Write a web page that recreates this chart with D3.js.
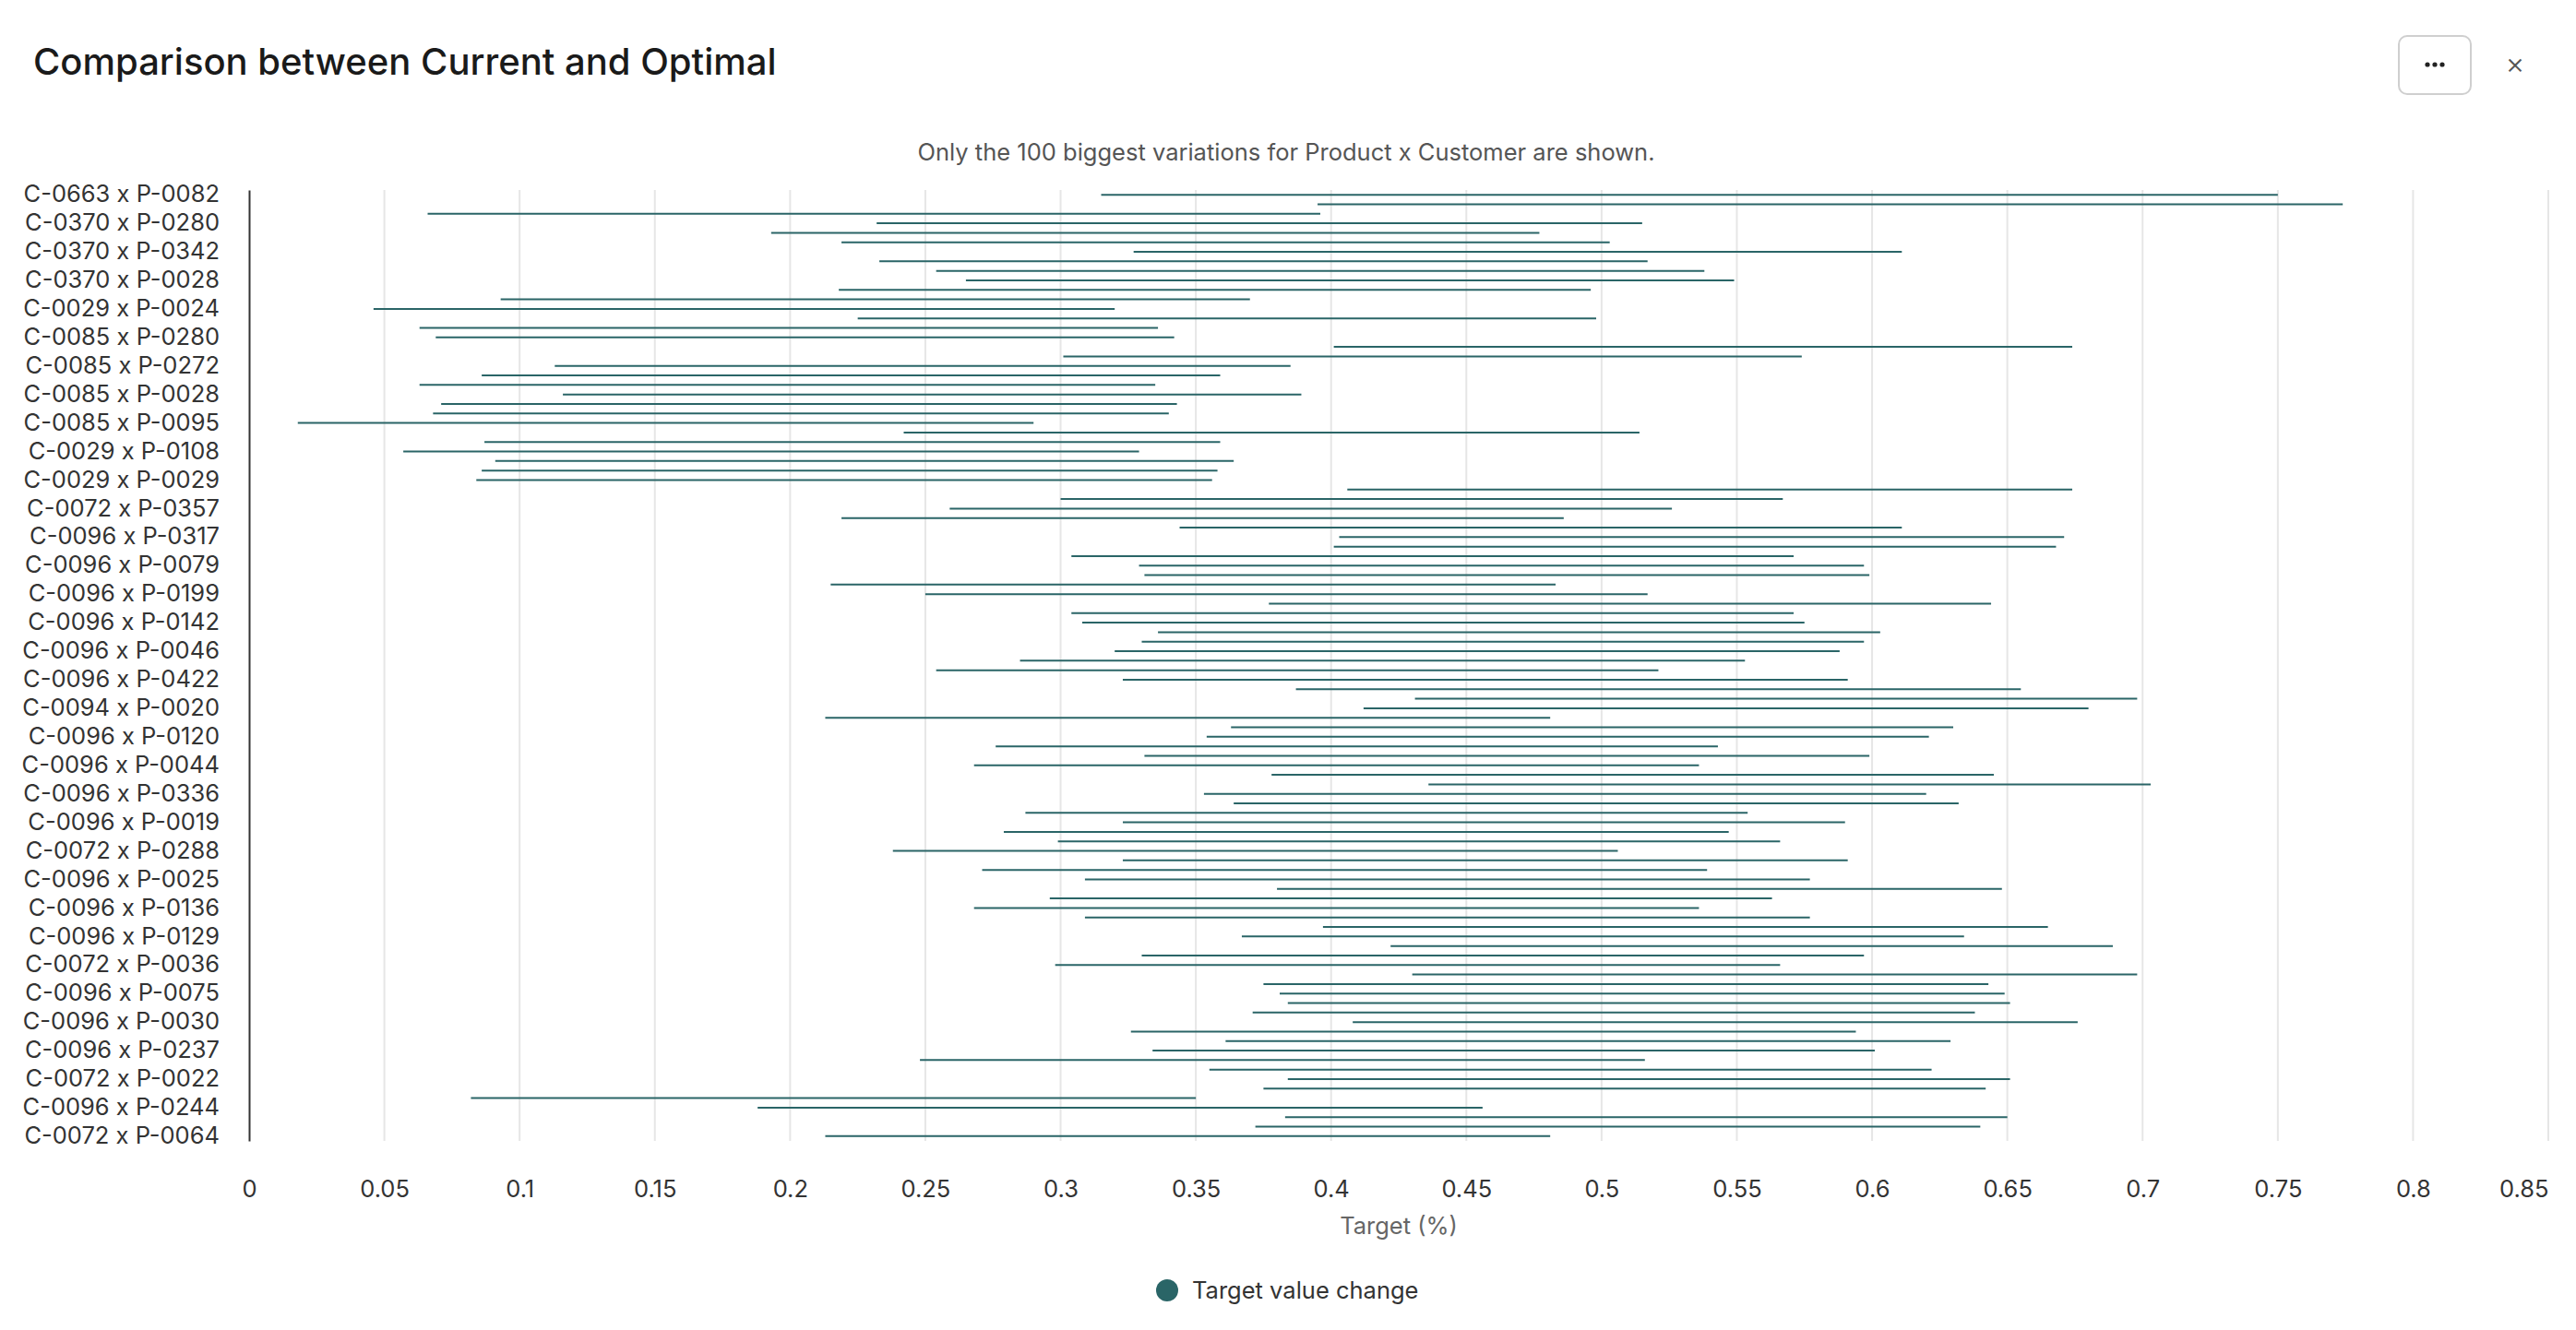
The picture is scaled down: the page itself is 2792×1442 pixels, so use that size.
<!DOCTYPE html>
<html>
<head>
<meta charset="utf-8">
<script src="https://cdn.jsdelivr.net/npm/d3@7"></script>
<style>
  html, body { margin: 0; padding: 0; background: #fff; }
  svg { display: block; font-family: Inter, "Noto Sans", sans-serif; }
</style>
</head>
<body>
<svg id="chart" width="2792" height="1442"></svg>
<script>
// labels shown on the y axis (every third row, top to bottom)
const rowLabels = [
  "C-0663 x P-0082", "C-0370 x P-0280", "C-0370 x P-0342", "C-0370 x P-0028",
  "C-0029 x P-0024", "C-0085 x P-0280", "C-0085 x P-0272", "C-0085 x P-0028",
  "C-0085 x P-0095", "C-0029 x P-0108", "C-0029 x P-0029", "C-0072 x P-0357",
  "C-0096 x P-0317", "C-0096 x P-0079", "C-0096 x P-0199", "C-0096 x P-0142",
  "C-0096 x P-0046", "C-0096 x P-0422", "C-0094 x P-0020", "C-0096 x P-0120",
  "C-0096 x P-0044", "C-0096 x P-0336", "C-0096 x P-0019", "C-0072 x P-0288",
  "C-0096 x P-0025", "C-0096 x P-0136", "C-0096 x P-0129", "C-0072 x P-0036",
  "C-0096 x P-0075", "C-0096 x P-0030", "C-0096 x P-0237", "C-0072 x P-0022",
  "C-0096 x P-0244", "C-0072 x P-0064"
];
const labelEvery = 3;

// start and end of each row's change, in target (%) units
const current = [
  0.315, 0.395, 0.066, 0.232, 0.193, 0.219, 0.327, 0.233, 0.254, 0.265,
  0.218, 0.093, 0.046, 0.225, 0.063, 0.069, 0.401, 0.301, 0.113, 0.086,
  0.063, 0.116, 0.071, 0.068, 0.018, 0.242, 0.087, 0.057, 0.091, 0.086,
  0.084, 0.406, 0.300, 0.259, 0.219, 0.344, 0.403, 0.401, 0.304, 0.329,
  0.331, 0.215, 0.250, 0.377, 0.304, 0.308, 0.336, 0.330, 0.320, 0.285,
  0.254, 0.323, 0.387, 0.431, 0.412, 0.213, 0.363, 0.354, 0.276, 0.331,
  0.268, 0.378, 0.436, 0.353, 0.364, 0.287, 0.323, 0.279, 0.299, 0.238,
  0.323, 0.271, 0.309, 0.380, 0.296, 0.268, 0.309, 0.397, 0.367, 0.422,
  0.330, 0.298, 0.430, 0.375, 0.381, 0.384, 0.371, 0.408, 0.326, 0.361,
  0.334, 0.248, 0.355, 0.384, 0.375, 0.082, 0.188, 0.383, 0.372, 0.213
];
const optimal = [
  0.750, 0.774, 0.396, 0.515, 0.477, 0.503, 0.611, 0.517, 0.538, 0.549,
  0.496, 0.370, 0.320, 0.498, 0.336, 0.342, 0.674, 0.574, 0.385, 0.359,
  0.335, 0.389, 0.343, 0.340, 0.290, 0.514, 0.359, 0.329, 0.364, 0.358,
  0.356, 0.674, 0.567, 0.526, 0.486, 0.611, 0.671, 0.668, 0.571, 0.597,
  0.599, 0.483, 0.517, 0.644, 0.571, 0.575, 0.603, 0.597, 0.588, 0.553,
  0.521, 0.591, 0.655, 0.698, 0.680, 0.481, 0.630, 0.621, 0.543, 0.599,
  0.536, 0.645, 0.703, 0.620, 0.632, 0.554, 0.590, 0.547, 0.566, 0.506,
  0.591, 0.539, 0.577, 0.648, 0.563, 0.536, 0.577, 0.665, 0.634, 0.689,
  0.597, 0.566, 0.698, 0.643, 0.649, 0.651, 0.638, 0.676, 0.594, 0.629,
  0.601, 0.516, 0.622, 0.651, 0.642, 0.350, 0.456, 0.650, 0.640, 0.481
];
const xTicks = [0, 0.05, 0.1, 0.15, 0.2, 0.25, 0.3, 0.35, 0.4, 0.45, 0.5, 0.55, 0.6, 0.65, 0.7, 0.75, 0.8, 0.85];

const lineColor = "#2a6567";
const small = "25.5px";
const svg = d3.select("#chart");
const plot = {left: 270, right: 2762, top: 206, bottom: 1237};

var rows = d3.range(current.length);
var x = d3.scaleLinear().domain([0, 0.85]).range([plot.left, plot.right]);
var y = d3.scaleBand().domain(rows).range([plot.top, plot.bottom]).padding(0);

// header
svg.append("text")
  .attr("x", 36).attr("y", 81)
  .attr("fill", "#1a1a1a")
  .style("font-size", "40px").style("font-weight", 500)
  .text("Comparison between Current and Optimal");

svg.append("rect")
  .attr("x", 2600).attr("y", 39).attr("width", 78).attr("height", 63)
  .attr("rx", 9).attr("fill", "#fff")
  .attr("stroke", "#cfcfcf").attr("stroke-width", 2);
svg.append("g").selectAll("circle").data([-8, 0, 8]).join("circle")
  .attr("cx", d => 2639 + d).attr("cy", 70).attr("r", 2.6).attr("fill", "#222");
svg.append("text")
  .attr("x", 2726).attr("y", 80)
  .attr("text-anchor", "middle").attr("fill", "#555")
  .style("font-size", "32px").style("font-weight", 300)
  .text("×");

svg.append("text")
  .attr("x", 1394).attr("y", 174)
  .attr("text-anchor", "middle").attr("fill", "#555")
  .style("font-size", small)
  .text("Only the 100 biggest variations for Product x Customer are shown.");

// grid
svg.append("g").selectAll("line").data(xTicks.slice(1)).join("line")
  .attr("x1", d => x(d)).attr("x2", d => x(d))
  .attr("y1", plot.top).attr("y2", plot.bottom)
  .attr("stroke", "#e6e6e6").attr("stroke-width", 2);

// x axis
var xAxis = svg.append("g")
  .attr("transform", "translate(0," + plot.bottom + ")")
  .call(d3.axisBottom(x).tickValues(xTicks).tickSize(0).tickFormat(d => String(+d.toFixed(2))));
xAxis.select(".domain").remove();
xAxis.selectAll("text")
  .attr("y", 61).attr("dy", 0)
  .attr("fill", "#333")
  .style("font-size", small).style("font-family", "Inter, sans-serif");
xAxis.selectAll(".tick").filter(d => d === 0.85).select("text").attr("text-anchor", "end");

svg.append("text")
  .attr("x", (plot.left + plot.right) / 2).attr("y", 1338)
  .attr("text-anchor", "middle").attr("fill", "#666")
  .style("font-size", small)
  .text("Target (%)");

// y axis
var yAxis = svg.append("g")
  .attr("transform", "translate(" + plot.left + ",0)")
  .call(d3.axisLeft(y)
    .tickValues(rows.filter(i => i % labelEvery === 0))
    .tickSize(0).tickPadding(32)
    .tickFormat(i => rowLabels[i / labelEvery]));
yAxis.select(".domain").attr("stroke", "#333").attr("stroke-width", 2);
yAxis.selectAll("text")
  .attr("fill", "#333")
  .style("font-size", small).style("font-family", "Inter, sans-serif");

// change lines
svg.append("g").selectAll("line").data(rows).join("line")
  .attr("x1", i => x(current[i])).attr("x2", i => x(optimal[i]))
  .attr("y1", i => y(i) + y.bandwidth() / 2).attr("y2", i => y(i) + y.bandwidth() / 2)
  .attr("stroke", lineColor).attr("stroke-width", 2);

// legend
svg.append("circle").attr("cx", 1265).attr("cy", 1399).attr("r", 12).attr("fill", lineColor);
svg.append("text")
  .attr("x", 1292).attr("y", 1408)
  .attr("fill", "#333")
  .style("font-size", small)
  .text("Target value change");
</script>
</body>
</html>
